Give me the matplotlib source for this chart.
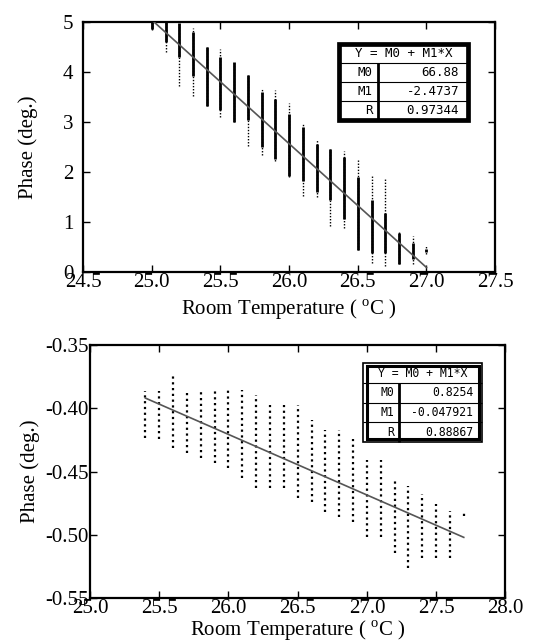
import matplotlib
matplotlib.use("Agg")
import matplotlib.pyplot as plt
from matplotlib.patches import Rectangle
from matplotlib.ticker import FormatStrFormatter

plt.rcParams['font.family'] = ['Liberation Serif', 'DejaVu Serif']
plt.rcParams['mathtext.fontset'] = 'custom'
plt.rcParams['mathtext.rm'] = 'Liberation Serif'
plt.rcParams['axes.unicode_minus'] = False

# ---- top panel: temperature columns (0.1 degC steps) ----
top_x = [25.0, 25.1, 25.2, 25.3, 25.4, 25.5, 25.6, 25.7, 25.8, 25.9, 26.0,
         26.1, 26.2, 26.3, 26.4, 26.5, 26.6, 26.7, 26.8, 26.9, 27.0]
# full extent of each column
top_min = [4.84, 4.40, 3.72, 3.51, 3.32, 3.10, 3.00, 2.51, 2.34, 2.22, 1.89,
           1.51, 1.50, 0.92, 0.88, 0.43, 0.18, 0.11, 0.15, 0.15, 0.35]
top_max = [5.00, 5.00, 4.97, 4.87, 4.50, 4.45, 4.20, 3.94, 3.67, 3.64, 3.37,
           2.97, 2.65, 2.45, 2.42, 2.24, 1.94, 1.87, 0.81, 0.71, 0.51]
# dense core of each column
top_lo = [4.85, 4.60, 4.30, 3.91, 3.32, 3.24, 3.00, 3.04, 2.50, 2.25, 1.92,
          1.81, 1.60, 1.44, 1.05, 0.43, 0.38, 0.38, 0.15, 0.25, 0.40]
top_hi = [5.00, 5.00, 4.97, 4.80, 4.50, 4.30, 4.20, 3.94, 3.60, 3.45, 3.15,
          2.90, 2.55, 2.45, 2.30, 1.90, 1.44, 1.18, 0.78, 0.58, 0.45]
top_fit = {'M0': 66.88, 'M1': -2.4737, 'R': 0.97344}
top_fit_text = ['66.88', '-2.4737', '0.97344']

# ---- bottom panel ----
bot_x = [25.4, 25.5, 25.6, 25.7, 25.8, 25.9, 26.0, 26.1, 26.2, 26.3, 26.4, 26.5,
         26.6, 26.7, 26.8, 26.9, 27.0, 27.1, 27.2, 27.3, 27.4, 27.5, 27.6, 27.7]
bot_min = [-0.423, -0.424, -0.431, -0.435, -0.439, -0.443, -0.447, -0.455,
           -0.463, -0.463, -0.463, -0.471, -0.474, -0.482, -0.486, -0.490,
           -0.502, -0.502, -0.514, -0.526, -0.518, -0.518, -0.518, -0.485]
bot_max = [-0.386, -0.386, -0.374, -0.386, -0.386, -0.385, -0.385, -0.385,
           -0.389, -0.397, -0.397, -0.397, -0.409, -0.417, -0.417, -0.424,
           -0.441, -0.441, -0.457, -0.461, -0.468, -0.476, -0.481, -0.483]
bot_fit = {'M0': 0.8254, 'M1': -0.047921, 'R': 0.88867}
bot_fit_text = ['0.8254', '-0.047921', '0.88867']


def fit_box(ax, x0, y0, x1, y1, values, double=False, fs=9):
    tr = ax.transAxes
    w, h = x1 - x0, y1 - y0
    rh = h / 4
    xc = x0 + w * 0.30
    if double:
        ax.add_patch(Rectangle((x0, y0), w, h, transform=tr, fill=True,
                               fc='white', ec='black', lw=1.2, zorder=5))
        ax.add_patch(Rectangle((x0 + 0.008, y0 + 0.012), w - 0.016, h - 0.024,
                               transform=tr, fill=False, ec='black', lw=2.2, zorder=6))
    else:
        ax.add_patch(Rectangle((x0, y0), w, h, transform=tr, fill=True,
                               fc='white', ec='black', lw=3.4, zorder=5))
    for i in range(1, 4):
        ax.plot([x0, x1], [y1 - i * rh, y1 - i * rh], transform=tr,
                color='black', lw=0.8, zorder=6, solid_capstyle='butt')
    ax.plot([xc, xc], [y0, y1 - rh], transform=tr, color='black', lw=2.0,
            zorder=6, solid_capstyle='butt')
    kw = dict(transform=tr, family='DejaVu Sans Mono', fontsize=fs,
              va='center', zorder=7)
    ax.text((x0 + x1) / 2, y1 - rh / 2, 'Y = M0 + M1*X', ha='center', **kw)
    for i, (lab, val) in enumerate(zip(['M0', 'M1', 'R'], values)):
        yy = y1 - (i + 1.5) * rh
        ax.text(xc - 0.012, yy, lab, ha='right', **kw)
        ax.text(x1 - 0.022, yy, val, ha='right', **kw)


def style(ax, ypad, ylabpad, xlabpad):
    ax.tick_params(direction='in', top=True, right=True, length=5, width=1,
                   labelsize=15)
    ax.tick_params(axis='x', pad=1)
    ax.tick_params(axis='y', pad=ypad)
    for s in ax.spines.values():
        s.set_linewidth(1.6)
    ax.set_ylabel('Phase (deg.)', fontsize=15, labelpad=ylabpad)
    ax.set_xlabel('Room Temperature ( $^{\\rm o}$C )', fontsize=15,
                  labelpad=xlabpad)


fig = plt.figure(figsize=(5.33, 6.43), dpi=100)

# top
ax1 = fig.add_axes([0.156, 0.577, 0.773, 0.389])
ax1.vlines(top_x, top_min, top_max, colors='black', lw=1.0,
           linestyles=(0, (1, 1.2)))
ax1.vlines(top_x, top_lo, top_hi, colors='black', lw=2.0)
ax1.plot([top_x[0], top_x[-1]],
         [top_fit['M0'] + top_fit['M1'] * top_x[0],
          top_fit['M0'] + top_fit['M1'] * top_x[-1]],
         color='#555555', lw=1.2, zorder=4)
ax1.set_xlim(24.5, 27.5)
ax1.set_ylim(0, 5)
ax1.set_xticks([24.5, 25.0, 25.5, 26.0, 26.5, 27.0, 27.5])
ax1.set_yticks([0, 1, 2, 3, 4, 5])
ax1.xaxis.set_major_formatter(FormatStrFormatter('%.1f'))
style(ax1, ypad=7, ylabpad=18, xlabpad=4)
fit_box(ax1, 0.621, 0.608, 0.934, 0.912, top_fit_text, fs=9)

# bottom
ax2 = fig.add_axes([0.169, 0.070, 0.779, 0.393])
ax2.vlines(bot_x, bot_min, bot_max, colors='black', lw=1.6,
           linestyles=(0, (1, 1.6)))
ax2.plot([bot_x[0], bot_x[-1]],
         [bot_fit['M0'] + bot_fit['M1'] * bot_x[0],
          bot_fit['M0'] + bot_fit['M1'] * bot_x[-1]],
         color='#555555', lw=1.2, zorder=4)
ax2.set_xlim(25.0, 28.0)
ax2.set_ylim(-0.55, -0.35)
ax2.set_xticks([25.0, 25.5, 26.0, 26.5, 27.0, 27.5, 28.0])
ax2.set_yticks([-0.55, -0.50, -0.45, -0.40, -0.35])
ax2.xaxis.set_major_formatter(FormatStrFormatter('%.1f'))
ax2.yaxis.set_major_formatter(FormatStrFormatter('%.2f'))
style(ax2, ypad=1, ylabpad=4, xlabpad=0)
fit_box(ax2, 0.658, 0.617, 0.945, 0.929, bot_fit_text, double=True, fs=8.3)

fig.savefig('out.png', dpi=100)
